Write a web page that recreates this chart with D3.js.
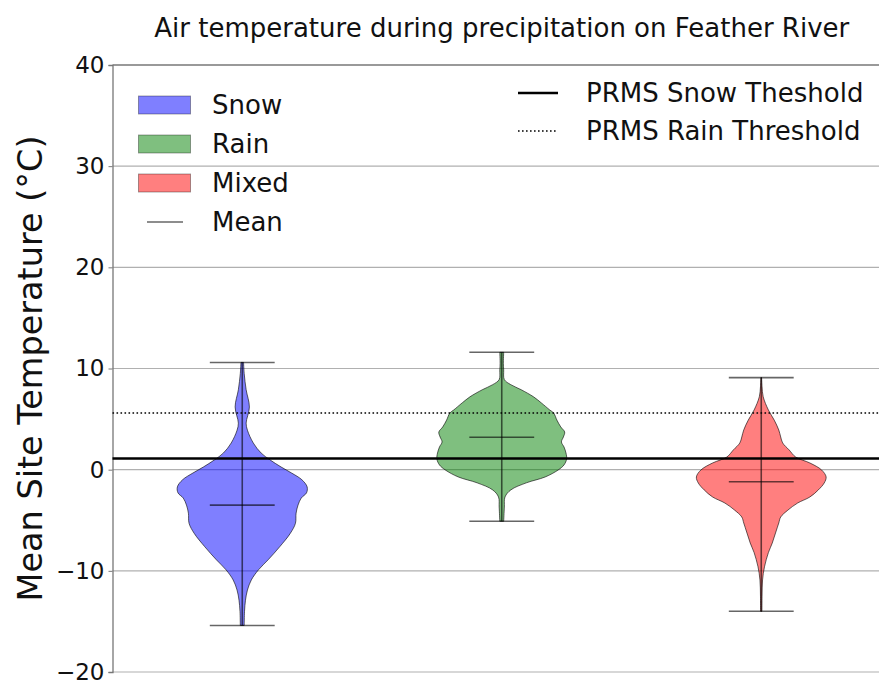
<!DOCTYPE html>
<html>
<head>
<meta charset="utf-8">
<script src="https://cdn.jsdelivr.net/npm/d3@7"></script>
<style>
  html, body { margin: 0; padding: 0; background: #fff; }
  svg { display: block; font-family: "DejaVu Sans", sans-serif; }
</style>
</head>
<body>
<svg id="chart" width="879" height="680"></svg>
<script>
// Precipitation phase classes and their summary statistics (°C)
const categories = ["Snow", "Rain", "Mixed"];
const means = [-3.5, 3.2, -1.2];
const mins = [-15.4, -5.1, -14.0];
const maxs = [10.6, 11.6, 9.1];

// Kernel density profiles: [temperature °C, density relative to the peak]
const snowProfile = [
  [-15.4, 0.03], [-14.0, 0.035], [-12.9, 0.05], [-11.9, 0.08], [-10.9, 0.14],
  [-9.9, 0.25], [-8.9, 0.4], [-7.6, 0.58], [-6.3, 0.74], [-5.3, 0.82],
  [-4.3, 0.83], [-3.5, 0.86], [-2.8, 0.91], [-2.3, 0.99], [-1.7, 1.0],
  [-1.0, 0.92], [-0.33, 0.76], [0.26, 0.6], [0.96, 0.43], [1.65, 0.29],
  [2.64, 0.17], [3.9, 0.08], [4.6, 0.06], [6.2, 0.11], [7.9, 0.06],
  [9.5, 0.03], [10.6, 0.02]
];
const rainProfile = [
  [-5.1, 0.03], [-3.7, 0.04], [-2.7, 0.05], [-2.0, 0.14], [-1.3, 0.38],
  [-0.72, 0.67], [-0.03, 0.87], [0.47, 0.96], [1.06, 1.0], [1.65, 0.99],
  [2.24, 0.96], [2.74, 0.92], [3.23, 0.95], [3.72, 0.97], [4.22, 0.91],
  [4.9, 0.85], [5.6, 0.8], [5.9, 0.74], [6.6, 0.61], [7.2, 0.49],
  [7.9, 0.3], [8.4, 0.14], [8.9, 0.04], [9.85, 0.03], [10.5, 0.025],
  [11.6, 0.03]
];
const mixedProfile = [
  [-14.0, 0.01], [-12.5, 0.012], [-10.9, 0.02], [-9.6, 0.05], [-8.2, 0.11],
  [-7.25, 0.17], [-6.26, 0.22], [-5.27, 0.27], [-4.68, 0.3], [-4.0, 0.41],
  [-3.3, 0.56], [-2.7, 0.75], [-2.0, 0.88], [-1.32, 0.97], [-0.72, 1.0],
  [-0.03, 0.93], [0.66, 0.75], [1.25, 0.53], [1.95, 0.43], [2.64, 0.33],
  [3.23, 0.3], [3.92, 0.27], [4.9, 0.2], [5.9, 0.11], [7.2, 0.03],
  [8.2, 0.012], [9.1, 0.005]
];
const profiles = [snowProfile, rainProfile, mixedProfile];

// PRMS rain/snow partition thresholds (°C)
const snowThreshold = 1.1;
const rainThreshold = 5.6;

const yTicks = [-20, -10, 0, 10, 20, 30, 40];
const legendLabels = ["Snow", "Rain", "Mixed", "Mean"];
const thresholdLabels = ["PRMS Snow Theshold", "PRMS Rain Threshold"];

const fillColors = ["#0000ff", "#008000", "#ff0000"];

const svg = d3.select("#chart");
const margin = { left: 112.5, top: 65, right: 891, bottom: 672 };

const x = d3.scaleLinear().domain([0.5, 3.5]).range([margin.left, margin.right]);
const y = d3.scaleLinear().domain([-20, 40]).range([margin.bottom, margin.top]);
const violinHalf = 0.25; // half of the default violin width in x units

// Horizontal grid
svg.append("g")
  .selectAll("line")
  .data(yTicks)
  .join("line")
  .attr("x1", margin.left).attr("x2", 879)
  .attr("y1", d => y(d)).attr("y2", d => y(d))
  .attr("stroke", d => d === 40 ? "#777" : "#b0b0b0")
  .attr("stroke-width", d => d === 40 ? 1.3 : 1.2);

// Left axis
const yAxis = d3.axisLeft(y).tickValues(yTicks).tickSize(4).tickPadding(4)
  .tickFormat(d => d < 0 ? "\u2212" + Math.abs(d) : d);
const gy = svg.append("g").attr("transform", `translate(${margin.left},0)`).call(yAxis);
gy.select(".domain").attr("stroke", "#777").attr("stroke-width", 1.3);
gy.selectAll(".tick line").attr("stroke", "#777");
gy.selectAll(".tick text").attr("font-size", 23).attr("fill", "#111")
  .attr("font-family", "DejaVu Sans");

// Violins
const area = d3.area()
  .curve(d3.curveCatmullRom.alpha(0.5))
  .y(d => y(d[0]));

profiles.forEach((prof, i) => {
  const cx = i + 1;
  const g = svg.append("g");
  g.append("path")
    .datum(prof)
    .attr("d", area
      .x0(d => x(cx - d[1] * violinHalf))
      .x1(d => x(cx + d[1] * violinHalf)))
    .attr("fill", fillColors[i])
    .attr("fill-opacity", 0.5)
    .attr("stroke", "#000")
    .attr("stroke-opacity", 0.6)
    .attr("stroke-width", 1);

  const capHalf = 0.125;
  const lineStyle = sel => sel.attr("stroke", "#000").attr("stroke-opacity", 0.6).attr("stroke-width", 1.6);
  g.append("line").call(lineStyle)
    .attr("x1", x(cx)).attr("x2", x(cx))
    .attr("y1", y(mins[i])).attr("y2", y(maxs[i]));
  [mins[i], maxs[i], means[i]].forEach(v => {
    g.append("line").call(lineStyle)
      .attr("x1", x(cx - capHalf)).attr("x2", x(cx + capHalf))
      .attr("y1", y(v)).attr("y2", y(v));
  });
});

// Threshold lines
svg.append("line")
  .attr("x1", margin.left).attr("x2", 879)
  .attr("y1", y(snowThreshold)).attr("y2", y(snowThreshold))
  .attr("stroke", "#000").attr("stroke-width", 2.6);
svg.append("line")
  .attr("x1", margin.left).attr("x2", 879)
  .attr("y1", y(rainThreshold)).attr("y2", y(rainThreshold))
  .attr("stroke", "#000").attr("stroke-width", 1.6)
  .attr("stroke-dasharray", "1.6,2.4");

// Left legend: violin classes and mean marker
const legendRowY = [105, 144, 183, 222];
const lg = svg.append("g");
legendLabels.forEach((lab, i) => {
  const cy = legendRowY[i];
  if (i < 3) {
    lg.append("rect")
      .attr("x", 138.5).attr("y", cy - 9)
      .attr("width", 52).attr("height", 18)
      .attr("fill", fillColors[i]).attr("fill-opacity", 0.5)
      .attr("stroke", "#000").attr("stroke-opacity", 0.35).attr("stroke-width", 1);
  } else {
    lg.append("line")
      .attr("x1", 147).attr("x2", 183)
      .attr("y1", cy).attr("y2", cy)
      .attr("stroke", "#000").attr("stroke-opacity", 0.6).attr("stroke-width", 1.5);
  }
  lg.append("text")
    .attr("x", 212).attr("y", cy)
    .attr("dy", "0.36em")
    .attr("font-size", 26)
    .attr("fill", "#111")
    .text(lab);
});

// Right legend: threshold lines
const rg = svg.append("g");
const thrRowY = [93, 131];
rg.append("line")
  .attr("x1", 518).attr("x2", 558).attr("y1", thrRowY[0]).attr("y2", thrRowY[0])
  .attr("stroke", "#000").attr("stroke-width", 2.6);
rg.append("line")
  .attr("x1", 518).attr("x2", 558).attr("y1", thrRowY[1]).attr("y2", thrRowY[1])
  .attr("stroke", "#000").attr("stroke-width", 1.6).attr("stroke-dasharray", "1.6,2.4");
thresholdLabels.forEach((lab, i) => {
  rg.append("text")
    .attr("x", 586).attr("y", thrRowY[i])
    .attr("dy", "0.36em")
    .attr("font-size", 26)
    .attr("fill", "#111")
    .text(lab);
});

// Title
svg.append("text")
  .attr("x", (margin.left + margin.right) / 2)
  .attr("y", 37)
  .attr("text-anchor", "middle")
  .attr("font-size", 26)
  .attr("fill", "#111")
  .text("Air temperature during precipitation on Feather River");

// Y-axis label
svg.append("text")
  .attr("transform", `translate(42,${(margin.top + margin.bottom) / 2}) rotate(-90)`)
  .attr("text-anchor", "middle")
  .attr("font-size", 33.5)
  .attr("fill", "#111")
  .text("Mean Site Temperature (\u00b0C)");
</script>
</body>
</html>
